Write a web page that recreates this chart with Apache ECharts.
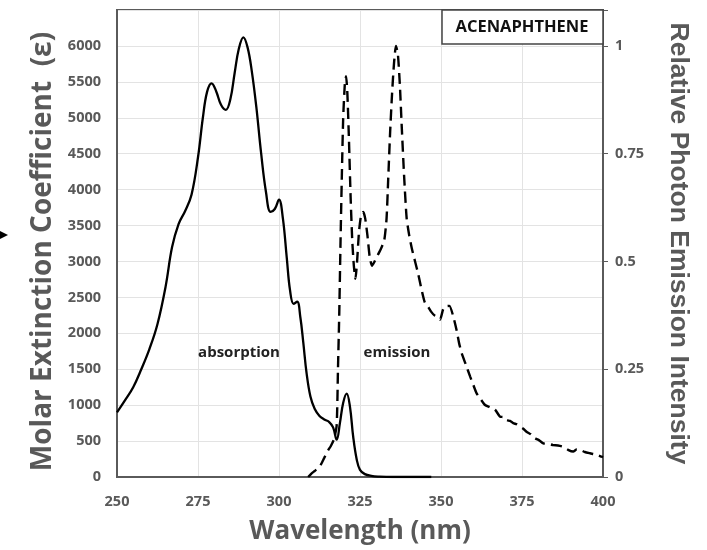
<!DOCTYPE html>
<html>
<head>
<meta charset="utf-8">
<script src="https://cdn.jsdelivr.net/npm/echarts@6/dist/echarts.min.js"></script>
<style>html,body{margin:0;padding:0;background:#fff}#c{width:707px;height:550px}</style>
</head>
<body>
<div id="c"></div>
<script>
// Wavelength ticks
const xTicks = [250, 275, 300, 325, 350, 375, 400];
const leftTicks = [0, 500, 1000, 1500, 2000, 2500, 3000, 3500, 4000, 4500, 5000, 5500, 6000];
const rightTicks = [0, 0.25, 0.5, 0.75, 1];

// Absorption (molar extinction coefficient) — wavelength, epsilon
const absWavelength = [250,252.5,255,257.5,260,262.5,265,267,269,271,273,275,276.5,277.8,279.2,280.6,282.1,283.6,285,286.3,287.6,289,290.3,291.6,293,294.5,296,297.4,298.7,300,301.2,302.4,303.4,304.5,305.6,306.6,307.5,308.5,309.7,311,312.5,314,315.5,316.7,317.8,318.8,319.8,320.9,321.9,322.9,324,325,326.5,328.5,331,335,347];
const absValue = [900,1070,1250,1500,1780,2130,2650,3200,3520,3700,3930,4450,5000,5360,5480,5370,5180,5110,5260,5620,5960,6120,5980,5650,5150,4500,3960,3690,3730,3860,3600,3050,2600,2410,2440,2220,1870,1450,1120,950,850,800,765,690,520,750,1030,1160,980,560,240,100,40,15,5,0,0];

// Emission (relative photon intensity) — wavelength, intensity
const emWavelength = [309,310,311,312,313,314,315,316,317,317.8,318.2,318.6,319,319.4,319.8,320.3,320.7,321.1,321.6,322.1,322.6,323.1,323.6,324.1,324.7,325.4,326,326.6,327.3,328,328.7,329.5,330.5,331.5,332.5,333.2,333.7,334.3,334.9,335.5,336.1,336.7,337.3,337.9,338.6,339.4,340.2,341,342,343,344,345,346,347,348,349,349.7,350.7,351.6,352.6,353.8,354.8,355.6,356.4,357.7,359,360,361,362.3,363.6,365,366.7,368.2,369.2,370.3,371.3,372.3,373.4,374.4,375.4,376.4,377.7,379,380.3,381.6,383.1,384.6,386.1,387.7,389.2,390.8,391.9,392.9,394.4,396,397.8,399.6,400];
const emValue = [0,0.008,0.014,0.02,0.03,0.045,0.06,0.072,0.088,0.12,0.25,0.38,0.55,0.7,0.83,0.91,0.93,0.89,0.78,0.65,0.55,0.49,0.46,0.5,0.57,0.61,0.615,0.6,0.56,0.51,0.49,0.5,0.515,0.53,0.55,0.6,0.69,0.8,0.89,0.96,1.0,0.98,0.91,0.81,0.7,0.6,0.56,0.53,0.5,0.47,0.435,0.405,0.395,0.383,0.375,0.372,0.365,0.39,0.396,0.397,0.372,0.341,0.31,0.287,0.26,0.233,0.213,0.194,0.18,0.167,0.162,0.156,0.14,0.139,0.132,0.13,0.125,0.122,0.117,0.112,0.105,0.099,0.09,0.085,0.078,0.077,0.074,0.073,0.07,0.063,0.059,0.064,0.063,0.058,0.055,0.052,0.047,0.046];

const absData = absWavelength.map((x, i) => [x, absValue[i]]);
const emData = emWavelength.map((x, i) => [x, emValue[i]]);

const chart = echarts.init(document.getElementById('c'), null, {renderer: 'canvas'});
const labelStyle = {color: '#595959', fontWeight: 'bold', fontSize: 14.5, fontFamily: 'Open Sans'};
const LMAX = 6500;
chart.setOption({
  animation: false,
  backgroundColor: '#fff',
  grid: {left: 117, right: 104, top: 10, bottom: 73, show: true, borderColor: '#5a5a5a', borderWidth: 2},
  xAxis: {
    type: 'value', min: xTicks[0], max: xTicks[xTicks.length - 1], interval: 25,
    axisLine: {show: true, lineStyle: {color: '#5a5a5a', width: 2}},
    axisTick: {show: false},
    splitLine: {show: true, lineStyle: {color: '#e3e3e3', width: 1}},
    axisLabel: Object.assign({margin: 17}, labelStyle),
    name: 'Wavelength (nm)', nameLocation: 'middle', nameGap: 42,
    nameTextStyle: {color: '#595959', fontWeight: 'bold', fontSize: 26, fontFamily: 'Open Sans'}
  },
  yAxis: [{
    type: 'value', min: 0, max: LMAX, interval: 500,
    axisLine: {show: true, lineStyle: {color: '#5a5a5a', width: 2}},
    axisTick: {show: false},
    splitLine: {show: true, lineStyle: {color: '#e3e3e3', width: 1}},
    axisLabel: Object.assign({margin: 16, formatter: v => leftTicks.indexOf(v) >= 0 ? String(v) : ''}, labelStyle),
    name: 'Molar Extinction Coefficient  (\u03b5)', nameLocation: 'middle', nameGap: 56, nameRotate: 90,
    nameTextStyle: {color: '#595959', fontWeight: 'bold', fontSize: 28, fontFamily: 'Open Sans', padding: [0, 16, 0, 0]}
  }, {
    type: 'value', min: 0, max: LMAX / 6000, interval: 0.25, position: 'right',
    axisLine: {show: true, lineStyle: {color: '#5a5a5a', width: 2}},
    axisTick: {show: true, length: 5, lineStyle: {color: '#5a5a5a'}},
    splitLine: {show: false},
    axisLabel: Object.assign({margin: 12, formatter: v => rightTicks.indexOf(v) >= 0 ? String(v) : ''}, labelStyle),
    name: 'Relative Photon Emission Intensity', nameLocation: 'middle', nameGap: 62, nameRotate: -90,
    nameTextStyle: {color: '#595959', fontWeight: 'bold', fontSize: 26.5, fontFamily: 'Liberation Sans'}
  }],
  series: [{
    name: 'absorption', type: 'line', data: absData, yAxisIndex: 0,
    showSymbol: false, smooth: 0.4,
    lineStyle: {color: '#000', width: 2.3}
  }, {
    name: 'emission', type: 'line', data: emData, yAxisIndex: 1,
    showSymbol: false, smooth: 0.2,
    lineStyle: {color: '#000', width: 2.4, type: [11, 6]}
  }],
  graphic: [
    {type: 'rect', shape: {x: 442, y: 10, width: 161, height: 34}, style: {fill: '#fff', stroke: '#444', lineWidth: 1.5}, z: 100},
    {type: 'text', x: 522, y: 27, style: {text: 'ACENAPHTHENE', fill: '#111', font: 'bold 16.5px "Open Sans"', textAlign: 'center', textVerticalAlign: 'middle'}, z: 101},
    {type: 'text', x: 239, y: 353, style: {text: 'absorption', fill: '#222', font: 'bold 15px "Open Sans"', textAlign: 'center', textVerticalAlign: 'middle'}, z: 101},
    {type: 'text', x: 397, y: 353, style: {text: 'emission', fill: '#222', font: 'bold 15px "Open Sans"', textAlign: 'center', textVerticalAlign: 'middle'}, z: 101},
    {type: 'polygon', shape: {points: [[0, 231], [8, 235], [0, 239]]}, style: {fill: '#000'}, z: 101}
  ]
});
</script>
</body>
</html>
